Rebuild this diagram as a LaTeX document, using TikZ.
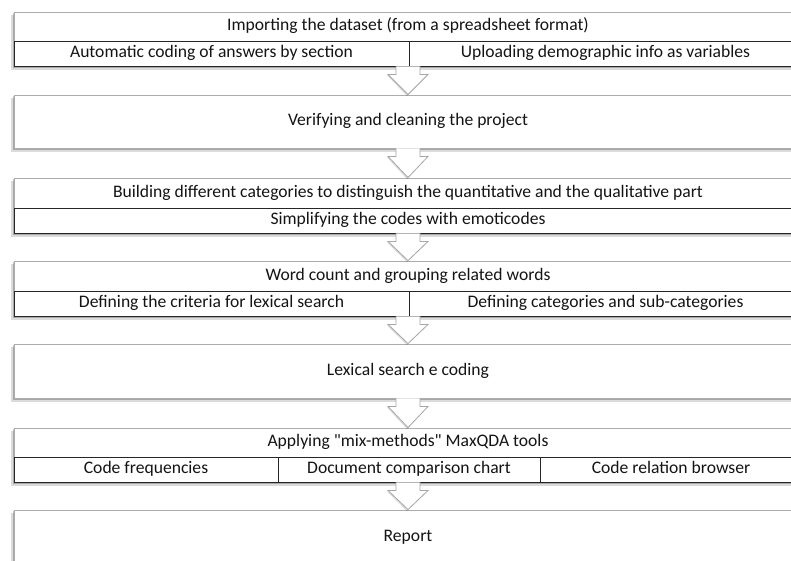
\documentclass[tikz,border=0pt]{standalone}
\usepackage{fontspec}
\newfontfamily\carl{Carlito}
\usetikzlibrary{calc}
\pgfdeclarelayer{background}
\pgfsetlayers{background,main}
\begin{document}
\begin{tikzpicture}[x=1pt,y=-1pt,
  outer/.style={draw=gray!65, fill=white, line width=0.9pt, inner sep=0pt, minimum width=788pt},
  cell/.style={draw=black!85, fill=white, line width=0.9pt, inner sep=0pt, minimum height=25pt,
    font=\carl\fontsize{17.6}{20}\selectfont, text=black!92, text height=12.5pt, text depth=4pt},
  lbl/.style={font=\carl\fontsize{17.6}{20}\selectfont, text=black!92, inner sep=0pt,
    text height=12.5pt, text depth=4pt},
  flow/.style={draw=gray!70, fill=white, line width=0.8pt, line join=miter},
  shadowA/.style={fill=black, opacity=0.14},
  shadowB/.style={fill=black, opacity=0.24}
]
\useasboundingbox (0,0) rectangle (791,560);
\clip (0,0) rectangle (791,560);

% boxes
\node[outer, minimum height=54pt] (b1) at (408,39) {};
\node[lbl] (t1) at (408,26.5) {Importing the dataset (from a spreadsheet format)};
\node[cell, minimum width=395pt] (b1a) at (211.5,53.5) {Automatic coding of answers by section};
\node[cell, minimum width=393pt] (b1b) at (605.5,53.5) {Uploading demographic info as variables};

\node[outer, minimum height=53pt] (b2) at (408,121.5) {};
\node[lbl] (t2) at (408,121.5) {Verifying and cleaning the project};

\node[outer, minimum height=55pt] (b3) at (408,205.5) {};
\node[lbl] (t3) at (408,193) {Building different categories to distinguish the quantitative and the qualitative part};
\node[cell, minimum width=788pt] (b3a) at (408,220.5) {Simplifying the codes with emoticodes};

\node[outer, minimum height=55pt] (b4) at (408,288.5) {};
\node[lbl] (t4) at (408,276) {Word count and grouping related words};
\node[cell, minimum width=395pt] (b4a) at (211.5,303.5) {Defining the criteria for lexical search};
\node[cell, minimum width=393pt] (b4b) at (605.5,303.5) {Defining categories and sub-categories};

\node[outer, minimum height=54pt] (b5) at (408,371) {};
\node[lbl] (t5) at (408,371) {Lexical search e coding};

\node[outer, minimum height=54pt] (b6) at (408,455) {};
\node[lbl] (t6) at (408,442.5) {Applying "mix-methods" MaxQDA tools};
\node[cell, minimum width=264pt] (b6a) at (146,469.5) {Code frequencies};
\node[cell, minimum width=262pt] (b6b) at (409,469.5) {Document comparison chart};
\node[cell, minimum width=262pt] (b6c) at (671,469.5) {Code relation browser};

\node[outer, minimum height=54pt] (b7) at (408,537) {};
\node[lbl] (t7) at (408,537) {Report};

% soft shadows behind the boxes
\begin{pgfonlayer}{background}
\foreach \n in {b1,b2,b3,b4,b5,b6,b7}{
  \fill[shadowA] ($(\n.north west)+(-2.2,3)$) rectangle ($(\n.south east)+(-2.2,3.5)$);
  \fill[shadowB] ($(\n.north west)+(-1,1.5)$) rectangle ($(\n.south east)+(-1,2)$);
}
\end{pgfonlayer}

% block arrows
\foreach \a/\b in {b1/b2, b2/b3, b3/b4, b4/b5, b5/b6, b6/b7}{
  \fill[shadowA] ($(\a.south)+(-21,9)$) -- ($(\b.north)+(-1,1.5)$) -- ($(\a.south)+(19,9)$) -- cycle;
  \path[flow] ($(\a.south)+(-12,0)$) -- ($(\a.south)+(-12,8)$) -- ($(\a.south)+(-20,8)$)
    -- (\b.north) -- ($(\a.south)+(20,8)$) -- ($(\a.south)+(12,8)$) -- ($(\a.south)+(12,0)$);
}
\end{tikzpicture}
\end{document}
